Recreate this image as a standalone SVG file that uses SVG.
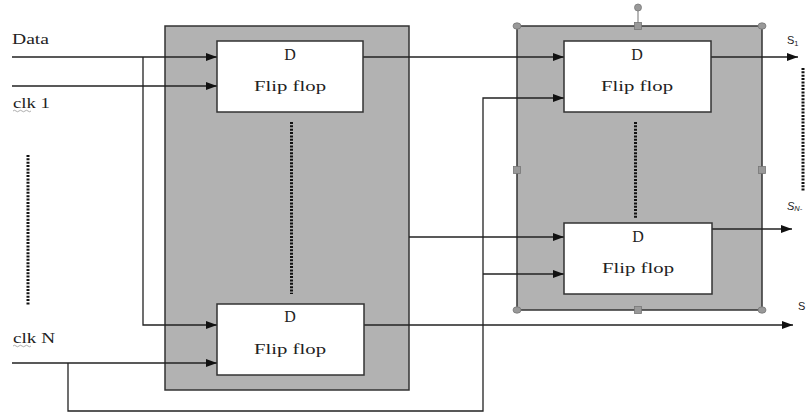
<svg xmlns="http://www.w3.org/2000/svg" width="807" height="413" viewBox="0 0 807 413">
<style>
.bg{fill:#b2b2b2;stroke:#333;stroke-width:1.5}
.ff{fill:#fff;stroke:#333;stroke-width:1.5}
.t{font-family:"Liberation Serif","DejaVu Serif",serif;font-size:15px;fill:#222}
.d{font-family:"Liberation Serif","DejaVu Serif",serif;font-size:16px;fill:#222}
.lbl{font-family:"Liberation Serif","DejaVu Serif",serif;font-size:14px;fill:#222}
.s{font-family:"Liberation Sans",sans-serif;font-size:11px;fill:#222}
.w{fill:none;stroke:#222;stroke-width:1.3}
.dots{fill:none;stroke:#111;stroke-width:3;stroke-dasharray:2 1.35}
.h{fill:#999;stroke:#777;stroke-width:0.8}
</style>
<defs>
<marker id="ah" viewBox="0 0 11 8" refX="11" refY="4" markerWidth="11" markerHeight="8" markerUnits="userSpaceOnUse" orient="auto">
<path d="M0,0 L11,4 L0,8 Z" fill="#111"/>
</marker>
</defs>
<rect width="807" height="413" fill="#fff"/>

<g id="stage1">
<rect class="bg" x="165" y="26" width="244" height="364"/>
<line class="dots" x1="291.5" y1="122" x2="291.5" y2="294"/>
</g>
<g id="stage2">
<rect class="bg" x="517" y="26" width="245" height="284"/>
<line class="dots" x1="635.5" y1="122" x2="635.5" y2="218"/>
<line x1="638" y1="26" x2="638" y2="8" stroke="#888" stroke-width="1.2"/>
<circle class="h" cx="638" cy="7.5" r="3.5"/>
<rect class="h" x="634.5" y="22.5" width="7" height="7"/>
<rect class="h" x="634.5" y="306.5" width="7" height="7"/>
<rect class="h" x="513.5" y="166.5" width="7" height="7"/>
<rect class="h" x="758.5" y="166.5" width="7" height="7"/>
<ellipse class="h" cx="517" cy="26" rx="4" ry="3.2"/>
<ellipse class="h" cx="762" cy="26" rx="4" ry="3.2"/>
<ellipse class="h" cx="517" cy="310" rx="4" ry="3.2"/>
<ellipse class="h" cx="762" cy="310" rx="4" ry="3.2"/>
</g>

<g id="connectors">
<line class="w" x1="12" y1="57" x2="217" y2="57" marker-end="url(#ah)"/>
<polyline class="w" points="143,57 143,325 217,325" marker-end="url(#ah)"/>
<line class="w" x1="12" y1="86" x2="217" y2="86" marker-end="url(#ah)"/>
<line class="w" x1="12" y1="363" x2="217" y2="363" marker-end="url(#ah)"/>
<polyline class="w" points="68,363 68,411 483,411 483,98 564,98" marker-end="url(#ah)"/>
<line class="w" x1="483" y1="274" x2="564" y2="274" marker-end="url(#ah)"/>
<line class="w" x1="409" y1="237" x2="564" y2="237" marker-end="url(#ah)"/>
<line class="w" x1="363" y1="57" x2="564" y2="57" marker-end="url(#ah)"/>
<line class="w" x1="711" y1="57" x2="798" y2="57" marker-end="url(#ah)"/>
<line class="w" x1="712" y1="229" x2="792" y2="229" marker-end="url(#ah)"/>
<line class="w" x1="364" y1="325" x2="793" y2="325" marker-end="url(#ah)"/>
</g>

<g id="ff1">
<rect class="ff" x="217" y="41" width="146" height="71"/>
<text class="d" x="290" y="60" text-anchor="middle">D</text>
<text class="t" x="290" y="91" text-anchor="middle" textLength="72" lengthAdjust="spacingAndGlyphs">Flip flop</text>
</g>
<g id="ff3">
<rect class="ff" x="217" y="304" width="147" height="71"/>
<text class="d" x="290" y="322" text-anchor="middle">D</text>
<text class="t" x="290" y="354" text-anchor="middle" textLength="72" lengthAdjust="spacingAndGlyphs">Flip flop</text>
</g>
<g id="ff2">
<rect class="ff" x="564" y="41" width="147" height="71"/>
<text class="d" x="637" y="60" text-anchor="middle">D</text>
<text class="t" x="637" y="91" text-anchor="middle" textLength="72" lengthAdjust="spacingAndGlyphs">Flip flop</text>
</g>
<g id="ff4">
<rect class="ff" x="564" y="223" width="148" height="71"/>
<text class="d" x="638" y="242" text-anchor="middle">D</text>
<text class="t" x="638" y="273" text-anchor="middle" textLength="72" lengthAdjust="spacingAndGlyphs">Flip flop</text>
</g>

<g id="inputs">
<text class="lbl" x="12" y="44" textLength="37" lengthAdjust="spacingAndGlyphs">Data</text>
<text class="lbl" x="13" y="108" textLength="37" lengthAdjust="spacingAndGlyphs">clk 1</text>
<path d="M13,111 q1.5,-1.5 3,0 t3,0 t3,0 t3,0 t3,0 t3,0" fill="none" stroke="#999" stroke-width="0.8"/>
<line class="dots" x1="28" y1="155" x2="28" y2="305"/>
<text class="lbl" x="13" y="343" textLength="42" lengthAdjust="spacingAndGlyphs">clk N</text>
<path d="M13,346 q1.5,-1.5 3,0 t3,0 t3,0 t3,0 t3,0 t3,0" fill="none" stroke="#999" stroke-width="0.8"/>
</g>

<g id="outputs">
<text class="s" x="787" y="44">S<tspan font-size="7.5" dy="2">1</tspan></text>
<line class="dots" x1="803" y1="68" x2="803" y2="191"/>
<text class="s" x="787" y="210" font-style="italic">S<tspan font-size="7.5" dy="1">N-</tspan></text>
<text class="s" x="798" y="310">S</text>
</g>
</svg>
